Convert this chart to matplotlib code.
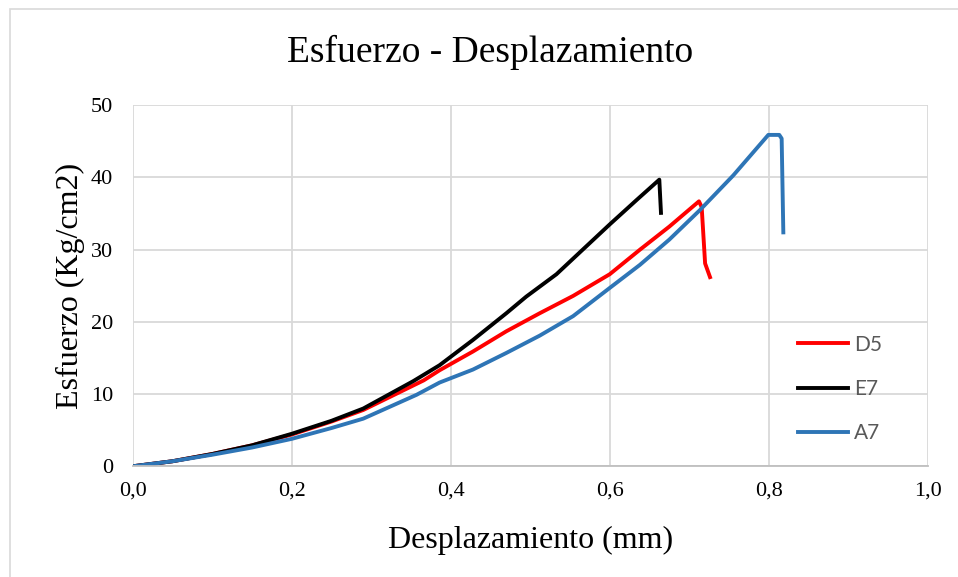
import matplotlib
matplotlib.use("Agg")
import matplotlib.pyplot as plt
from matplotlib.patches import Rectangle
from matplotlib.ticker import FuncFormatter

# datos
d5_x = [0, 0.05, 0.1, 0.15, 0.2, 0.25, 0.29, 0.366, 0.386, 0.428, 0.470, 0.512, 0.554, 0.6, 0.638, 0.675,
        0.7123, 0.7157, 0.72, 0.7262]
d5_y = [0, 0.7, 1.7, 2.9, 4.4, 6.2, 7.8, 11.9, 13.3, 15.9, 18.7, 21.2, 23.6, 26.6, 30.0, 33.2,
        36.7, 35.9, 28.1, 26.2]

e7_x = [0, 0.05, 0.1, 0.15, 0.2, 0.25, 0.29, 0.353, 0.386, 0.428, 0.470, 0.495, 0.533, 0.566, 0.6, 0.634,
        0.6624, 0.6645]
e7_y = [0, 0.7, 1.7, 2.9, 4.5, 6.3, 8.0, 11.8, 14.0, 17.5, 21.2, 23.5, 26.6, 30.0, 33.5, 36.9,
        39.7, 35.1]

a7_x = [0, 0.05, 0.1, 0.15, 0.2, 0.25, 0.29, 0.357, 0.386, 0.428, 0.470, 0.512, 0.554, 0.6, 0.638, 0.675,
        0.7136, 0.7555, 0.7995, 0.8133, 0.8163, 0.8184]
a7_y = [0, 0.7, 1.6, 2.6, 3.8, 5.3, 6.6, 9.9, 11.6, 13.4, 15.7, 18.1, 20.8, 24.7, 27.9, 31.4,
        35.5, 40.3, 45.9, 45.9, 45.4, 32.4]

x_ticks = [0.0, 0.2, 0.4, 0.6, 0.8, 1.0]
y_ticks = [0, 10, 20, 30, 40, 50]

serif = "Liberation Serif"

fig = plt.figure(figsize=(9.58, 5.77), dpi=100)
ax = fig.add_axes([132.7 / 958, 1 - 466.3 / 577, 795 / 958, 361 / 577])

# borde del area del grafico
fig.patches.append(Rectangle((9.5 / 958, -0.1), 1.2, 1.1 - 9 / 577, transform=fig.transFigure,
                             fill=False, edgecolor="#d9d9d9", linewidth=1.2))

ax.plot(d5_x, d5_y, color="#FF0000", linewidth=2.8, label="D5", solid_joinstyle="round")
ax.plot(e7_x, e7_y, color="#000000", linewidth=2.8, label="E7", solid_joinstyle="round")
ax.plot(a7_x, a7_y, color="#2E75B6", linewidth=2.8, label="A7", solid_joinstyle="round")

ax.set_xlim(0, 1.0)
ax.set_ylim(0, 50)
ax.set_xticks(x_ticks)
ax.set_yticks(y_ticks)
ax.xaxis.set_major_formatter(FuncFormatter(lambda v, p: f"{v:.1f}".replace(".", ",")))
ax.grid(True, color="#d9d9d9", linewidth=1.3)
ax.set_axisbelow(True)
for s in ["top", "right", "left"]:
    ax.spines[s].set_visible(False)
ax.spines["bottom"].set_color("#bfbfbf")
ax.spines["bottom"].set_linewidth(1.3)
ax.tick_params(length=0, labelsize=16)
ax.tick_params(axis="x", pad=11)
ax.tick_params(axis="y", pad=14)
for lab in ax.get_xticklabels() + ax.get_yticklabels():
    lab.set_fontfamily(serif)

fig.text(490 / 958, 1 - 52 / 577, "Esfuerzo - Desplazamiento", ha="center", va="center",
         fontsize=27, family=serif)
ax.set_xlabel("Desplazamiento (mm)", fontsize=23, family=serif, labelpad=18)
ax.set_ylabel("Esfuerzo (Kg/cm2)", fontsize=23, family=serif, labelpad=4)

leg = ax.legend(loc="upper left", bbox_to_anchor=(779 / 958, 1 - 316 / 577), bbox_transform=fig.transFigure,
                frameon=False, handlelength=2.4, labelspacing=1.16, handletextpad=0.3,
                prop={"family": "Lato", "size": 15})
for t in leg.get_texts():
    t.set_color("#595959")

fig.savefig("out.png", dpi=100)
